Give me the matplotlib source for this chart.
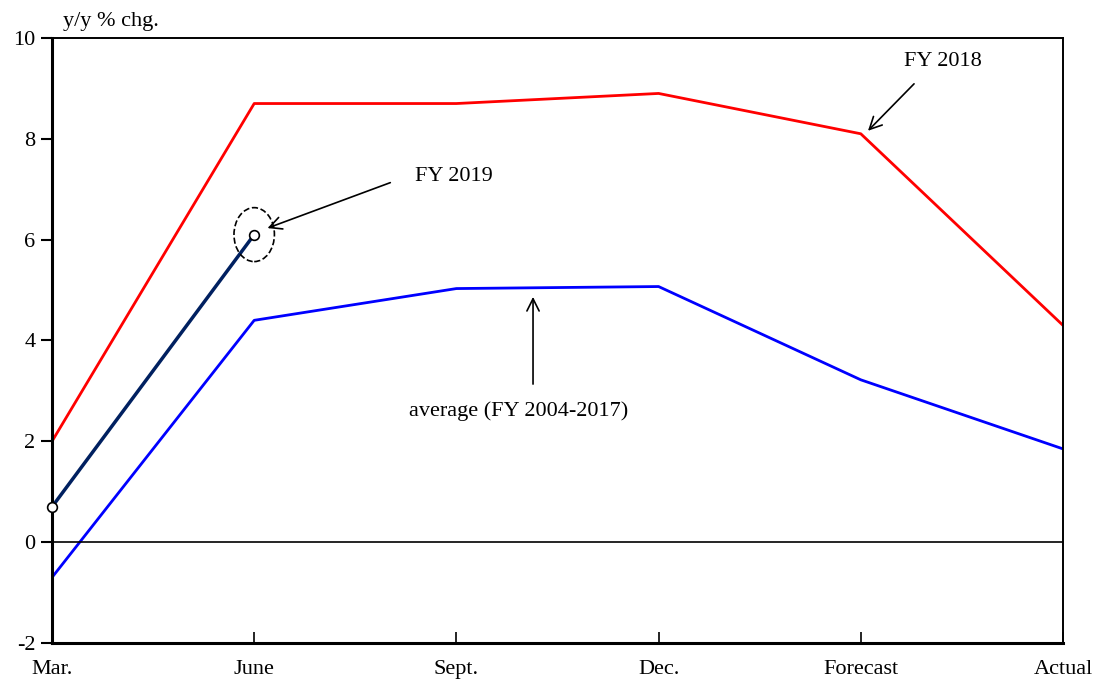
import numpy as np
import matplotlib
matplotlib.use('Agg')
import matplotlib.pyplot as plt
from matplotlib.patches import Ellipse

plt.rcParams['font.family'] = ['Liberation Serif', 'DejaVu Serif']
plt.rcParams['axes.unicode_minus'] = False

# data
categories = ['Mar.', 'June', 'Sept.', 'Dec.', 'Forecast', 'Actual']
fy2018 = [2.0, 8.7, 8.7, 8.9, 8.1, 4.3]
average = [-0.7, 4.4, 5.03, 5.07, 3.22, 1.85]
fy2019 = [0.7, 6.1]

x = np.arange(len(categories))

fig = plt.figure(figsize=(10.97, 6.82), dpi=100)
ax = fig.add_axes([0.0474, 0.0572, 0.9216, 0.8871])

ax.plot(x, fy2018, color='#ff0000', lw=2)
ax.plot(x, average, color='#0000ff', lw=2)
ax.plot(x[:2], fy2019, color='#002060', lw=2.5, marker='o', ms=7,
        mfc='white', mec='black', mew=1.2, clip_on=False, zorder=5)
ax.axhline(0, color='black', lw=1.2)

# dashed circle round the latest point
ax.add_patch(Ellipse((1, fy2019[1]), 0.2, 1.07, fill=False, ls='--',
                     lw=1.2, ec='black', zorder=6))

ax.set_xlim(0, 5)
ax.set_ylim(-2, 10)
ax.set_xticks(x)
ax.set_xticklabels(categories, fontsize=16)
ax.set_yticks(range(-2, 11, 2))
ax.tick_params(axis='y', direction='out', length=8, width=1.5, labelsize=16, pad=4)
ax.tick_params(axis='x', direction='in', length=8, width=1.2, labelsize=16, pad=12)
for s in ['left', 'bottom']:
    ax.spines[s].set_linewidth(2.2)
for s in ['top', 'right']:
    ax.spines[s].set_linewidth(1.4)

fig.text(0.057, 0.968, 'y/y % chg.', fontsize=16, ha='left', va='center')

arr = dict(arrowstyle='->', color='black', lw=1.2, mutation_scale=22)
ax.annotate('', xy=(1.053, 6.21), xytext=(1.686, 7.15), arrowprops=arr)
ax.text(1.99, 7.25, 'FY 2019', fontsize=16, ha='center', va='center')
ax.annotate('', xy=(4.026, 8.12), xytext=(4.273, 9.13), arrowprops=arr)
ax.text(4.406, 9.53, 'FY 2018', fontsize=16, ha='center', va='center')
ax.annotate('', xy=(2.379, 4.92), xytext=(2.379, 3.08), arrowprops=arr)
ax.text(2.31, 2.6, 'average (FY 2004-2017)', fontsize=16, ha='center', va='center')

fig.savefig('out.png', dpi=100)
